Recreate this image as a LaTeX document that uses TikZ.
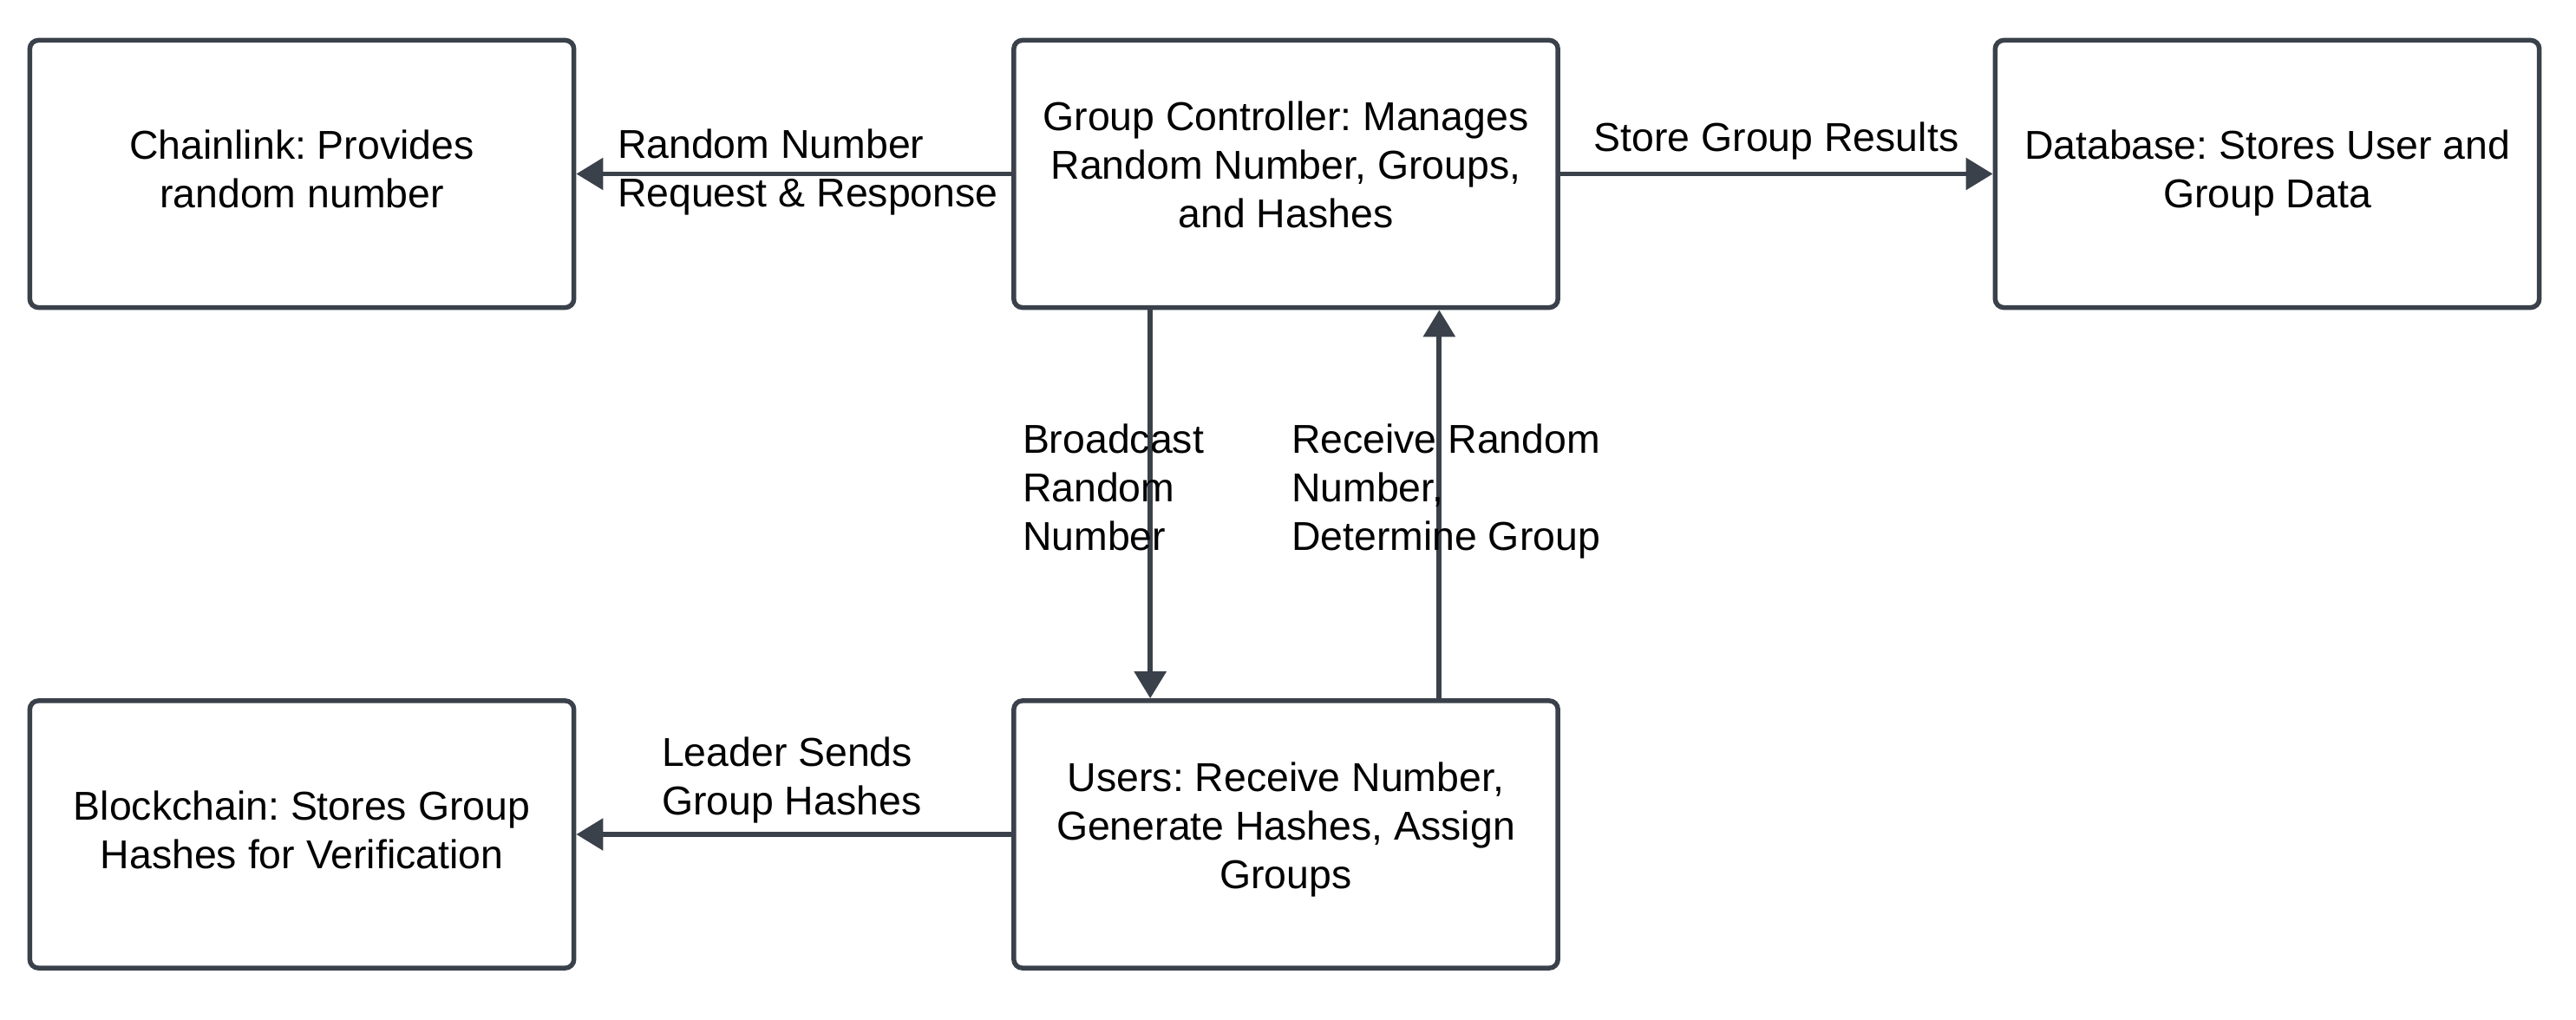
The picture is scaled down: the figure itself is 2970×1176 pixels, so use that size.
\documentclass[tikz,border=0pt]{standalone}
\usepackage{fontspec}
\setmainfont{Liberation Sans}
\usetikzlibrary{arrows.meta}
\definecolor{ink}{RGB}{58,65,74}
\frenchspacing
\newcommand\lowpad{\rule[-0.268cm]{0pt}{0pt}}
\begin{document}
\begin{tikzpicture}[x=0.01cm,y=-0.01cm,
  txt/.style={font=\fontsize{13.2pt}{15.93pt}\selectfont\frenchspacing, text=black, inner sep=0pt, outer sep=0pt},
  box/.style={txt, draw=ink, line width=1.56pt, fill=white, rounded corners=0.1cm,
    minimum width=6.27cm, minimum height=3.08cm, align=center, outer sep=0.5\pgflinewidth},
  lbl/.style={txt, align=left, anchor=north west},
  conn/.style={draw=ink, line width=1.7pt, -{Triangle[length=0.31cm,width=0.36cm]}}
]
\useasboundingbox (0,0) rectangle (2970,1176);
\node[box] (chain) at (348,200.5) {\strut Chainlink: Provides\\\strut random number};
\node[box] (gc) at (1482.5,200.5) {\strut Group Controller: Manages\\\strut Random Number, Groups,\\\strut and Hashes\lowpad};
\node[box] (db) at (2614,200.5) {\strut Database: Stores User and\\\strut Group Data};
\node[box] (block) at (348,962) {\strut Blockchain: Stores Group\\\strut Hashes for Verification};
\node[box] (users) at (1482.5,962) {\strut Users: Receive Number,\\\strut Generate Hashes, Assign\\\strut Groups\lowpad};

\draw[conn] (gc.west) -- (chain.east);
\draw[conn] (gc.east) -- (db.west);
\draw[conn] ([xshift=1.6cm]gc.south west) -- ([xshift=1.6cm]users.north west);
\draw[conn] ([xshift=4.93cm]users.north west) -- ([xshift=4.93cm]gc.south west);
\draw[conn] (users.west) -- (block.east);

\node[lbl] (lrr) at (712,142.8) {\strut Random Number\\\strut Request \& Response};
\node[txt, anchor=north] (lsg) at (2048,134.8) {\strut Store Group Results};
\node[lbl] (lbc) at (1179,482.8) {\strut Broadcast\\\strut Random\\\strut Number};
\node[lbl] (lrc) at (1489,482.8) {\strut Receive Random\\\strut Number,\\\strut Determine Group};
\node[lbl] (lls) at (763,843.8) {\strut Leader Sends\\\strut Group Hashes};
\end{tikzpicture}
\end{document}
